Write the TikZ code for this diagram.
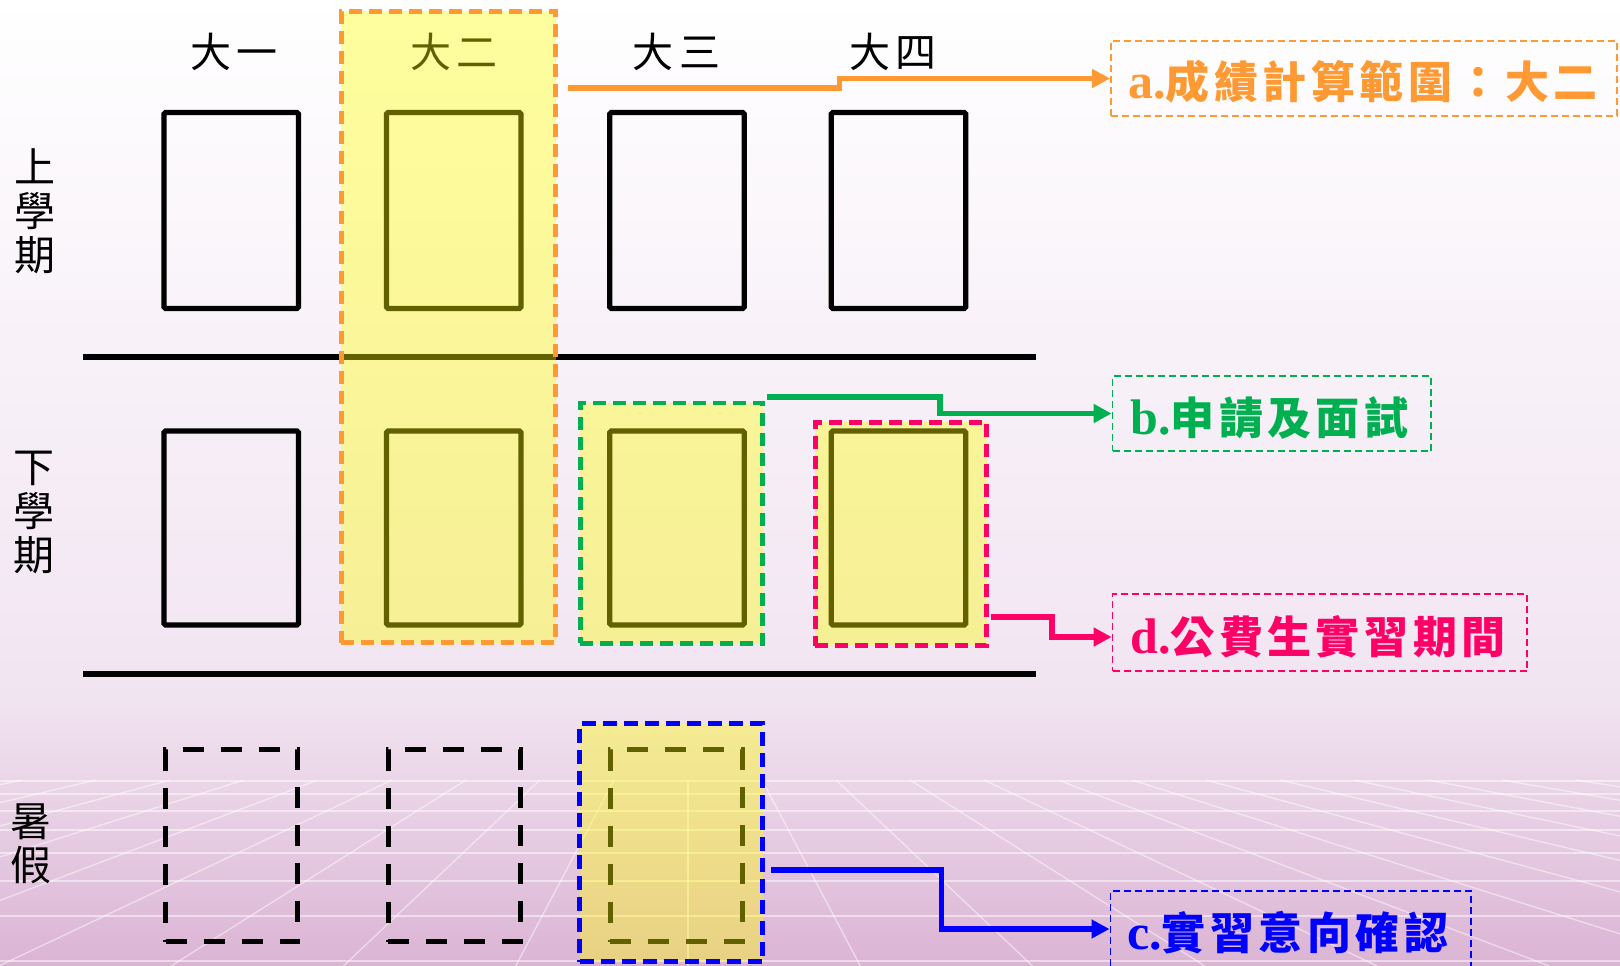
\documentclass[tikz,border=0pt]{standalone}
\usepackage{fontspec}
\usetikzlibrary{arrows.meta,calc}
\newfontfamily\cjk{Noto Sans CJK TC}
\newfontfamily\latserif{Liberation Serif}
\makeatletter
\newcommand\spc[2]{\@tfor\spc@c:=#2\do{\spc@c\hspace{#1}}\unskip}
\makeatother
\definecolor{orng}{HTML}{FF9933}
\definecolor{grn}{HTML}{00B050}
\definecolor{pnk}{HTML}{FF0066}
\definecolor{blu}{HTML}{0000FF}
\definecolor{ylw}{HTML}{FFFF00}
\definecolor{bgmid}{HTML}{F1E4F1}
\definecolor{bgbot}{HTML}{DBB4D4}
\tikzset{
  ibox/.style={draw=black, line width=5.2pt, rounded corners=1.5pt, minimum width=134.5pt, inner sep=0pt},
  sbox/.style={draw=black, line width=5pt, dash pattern=on 21pt off 17pt, minimum width=132pt, minimum height=192pt, inner sep=0pt},
  region/.style={fill=ylw, fill opacity=0.38, line width=4.6pt, dash pattern=on 13pt off 7pt, inner sep=0pt},
  lbox/.style={line width=1.8pt, dash pattern=on 7pt off 4pt, inner sep=0pt},
  conn/.style={line width=5.8pt, -{Triangle[length=18pt,width=18pt]}},
  ltxt/.style={anchor=west, inner sep=0pt},
  hdr/.style={font=\cjk\fontsize{41}{44}\selectfont, inner sep=0pt, align=center},
  sepline/.style={line width=6pt, draw=black},
  gridline/.style={draw=white, line width=1.3pt, opacity=0.5}
}
\begin{document}
\begin{tikzpicture}[x=1pt,y=-1pt]
\useasboundingbox (0,0) rectangle (1620,966);
% background
\shade[top color=white, bottom color=bgmid] (0,0) rectangle (1620,700);
\shade[top color=bgmid, bottom color=bgbot] (0,700) rectangle (1620,966);
\begin{scope}
\clip (0,778) rectangle (1620,966);
\foreach \yy in {781,794,811,830,853,881,916,961} \draw[gridline] (0,\yy) -- (1620,\yy);
\foreach \k in {-12,...,14} \draw[gridline] ({688+74*\k},780) -- ({688+172.3*\k},966);
\end{scope}
% semester boxes
\foreach \n/\x in {1/231.3,2/453.8,3/677,4/898.5} {
  \node[ibox, minimum height=196pt] (u\n) at (\x,210.5) {};
  \node[ibox, minimum height=194pt] (l\n) at (\x,528) {};
}
\foreach \n/\x in {1/231.5,2/454,3/676} \node[sbox] (s\n) at (\x,845.5) {};
% separator lines
\coordinate (h1a) at (83,356.7); \coordinate (h1b) at (1036,356.7);
\coordinate (h2a) at (83,674); \coordinate (h2b) at (1036,674);
\draw[sepline] (h1a) -- (h1b);
\draw[sepline] (h2a) -- (h2b);
% headers
\node[hdr] (y1) at (234,52) {\spc{6pt}{大一}};
\node[hdr] (y2) at (454,52) {\spc{6pt}{大二}};
\node[hdr] (y3) at (676.5,52) {\spc{6pt}{大三}};
\node[hdr] (y4) at (893,52) {\spc{6pt}{大四}};
\node[hdr] (r1) at (35,211) {上\\學\\期};
\node[hdr] (r2) at (34,513) {下\\學\\期};
\node[hdr] (r3) at (31,844) {暑\\假};
% highlighted regions
\node[region, draw=orng, minimum width=214.5pt, minimum height=631.5pt] (ocol) at (448.5,327) {};
\node[region, draw=grn, minimum width=182.5pt, minimum height=240.5pt] (gbox) at (671.5,523.2) {};
\node[region, draw=pnk, minimum width=171.5pt, minimum height=223.5pt] (rbox) at (901,534) {};
\node[region, draw=blu, line width=5.2pt, dash pattern=on 14pt off 7pt, minimum width=183pt, minimum height=238pt] (bluebox) at (671,842.5) {};
% label boxes
\node[lbox, draw=orng, minimum width=506pt, minimum height=75pt] (la) at (1364,78.5) {};
\node[lbox, draw=grn, minimum width=318.6pt, minimum height=75pt] (lb) at (1271.8,413.5) {};
\node[lbox, draw=pnk, minimum width=414.6pt, minimum height=77pt] (ld) at (1319.8,632.5) {};
\node[lbox, draw=blu, minimum width=360.7pt, minimum height=80pt] (lc) at (1290.75,931) {};
\node[ltxt, text=orng] (ta) at (1128,81.5) {\bfseries\latserif\fontsize{50}{52}\selectfont a.\cjk\fontsize{44}{48}\selectfont\spc{4.5pt}{成績計算範圍：大二}};
\node[ltxt, text=grn] (tb) at (1130,418.5) {\bfseries\latserif\fontsize{50}{52}\selectfont b.\cjk\fontsize{44}{48}\selectfont\spc{4.5pt}{申請及面試}};
\node[ltxt, text=pnk] (td) at (1130,637) {\bfseries\latserif\fontsize{50}{52}\selectfont d.\cjk\fontsize{44}{48}\selectfont\spc{4.5pt}{公費生實習期間}};
\node[ltxt, text=blu] (tc) at (1127,933) {\bfseries\latserif\fontsize{50}{52}\selectfont c.\cjk\fontsize{44}{48}\selectfont\spc{4.5pt}{實習意向確認}};
% connectors
\coordinate (ostart) at (567.5,87.7);
\coordinate (gstart) at ($(gbox.north east)+(2,-3.5)$);
\coordinate (rstart) at ($(rbox.south east)+(2,-31)$);
\coordinate (bstart) at ($(bluebox.east)+(6,27.5)$);
\draw[conn, orng] (ostart) -- ++(272,0) |- (la.west);
\draw[conn, grn] (gstart) -- ++(173,0) |- (lb.west);
\draw[conn, pnk] (rstart) -- ++(60.6,0) |- ([yshift=-4.5pt]ld.west);
\draw[conn, blu] (bstart) -- ++(170.4,0) |- ([yshift=2pt]lc.west);
\end{tikzpicture}
\end{document}
